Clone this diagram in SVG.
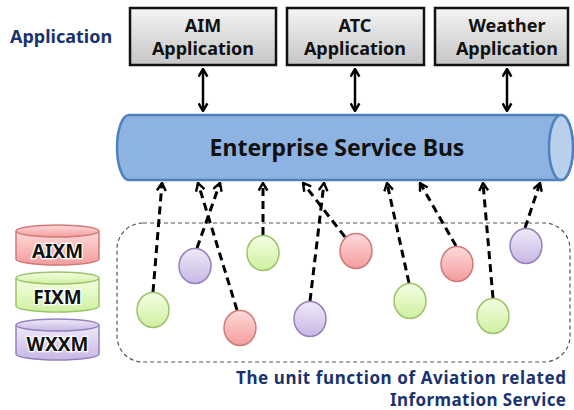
<svg xmlns="http://www.w3.org/2000/svg" width="574" height="410" viewBox="0 0 574 410">
<defs>
<linearGradient id="gBox" x1="0" y1="0" x2="0" y2="1"><stop offset="0" stop-color="#F4F4F4"/><stop offset="1" stop-color="#C6C6C6"/></linearGradient>
<linearGradient id="gRed" x1="0" y1="0" x2="0" y2="1"><stop offset="0" stop-color="#FFDADA"/><stop offset="1" stop-color="#F39C9C"/></linearGradient>
<linearGradient id="gGreen" x1="0" y1="0" x2="0" y2="1"><stop offset="0" stop-color="#F4FFE4"/><stop offset="1" stop-color="#CFEFA0"/></linearGradient>
<linearGradient id="gPurple" x1="0" y1="0" x2="0" y2="1"><stop offset="0" stop-color="#F0EAF8"/><stop offset="1" stop-color="#C7B7E3"/></linearGradient>
<marker id="open" viewBox="0 0 10 10" refX="9" refY="5" markerWidth="11" markerHeight="11" markerUnits="userSpaceOnUse" orient="auto-start-reverse">
<path d="M2,1 L9,5 L2,9" fill="none" stroke="#000" stroke-width="2.2"/>
</marker>
</defs>
<style>
text{font-family:"Noto Sans","Liberation Sans",sans-serif;font-weight:bold}
.box{fill:url(#gBox);stroke:#111;stroke-width:2.5}
.btxt{font-size:18px;fill:#111;text-anchor:middle}
.navy{fill:#1A3370}
.dbl{stroke:#000;stroke-width:2.5;fill:none}
.dash{stroke:#000;stroke-width:3;stroke-dasharray:8 5;fill:none}
.red{fill:url(#gRed);stroke:#D07A7A;stroke-width:1.5}
.green{fill:url(#gGreen);stroke:#9DC26A;stroke-width:1.5}
.purple{fill:url(#gPurple);stroke:#9580BE;stroke-width:1.5}
.ctxt{font-size:19px;fill:#111;text-anchor:middle;stroke:#fff;stroke-width:2.5;paint-order:stroke}
</style>

<text x="10" y="43" class="navy" font-size="18">Application</text>

<g id="aim"><rect class="box" x="130" y="8" width="146" height="57"/><text class="btxt" x="203" y="32">AIM</text><text class="btxt" x="203" y="55">Application</text></g>
<g id="atc"><rect class="box" x="287" y="8" width="137" height="57"/><text class="btxt" x="355" y="32">ATC</text><text class="btxt" x="355" y="55">Application</text></g>
<g id="weather"><rect class="box" x="435" y="8" width="133" height="57"/><text class="btxt" x="507" y="32">Weather</text><text class="btxt" x="507" y="55">Application</text></g>

<g id="bus">
<path d="M129,115 L561,115 A12,32.5 0 0 1 561,180 L129,180 A12,32.5 0 0 1 129,115 Z" fill="#8DB3E2" stroke="#4F81BD" stroke-width="2.5"/>
<ellipse cx="561" cy="147.5" rx="12" ry="32.5" fill="#B9CFEC" stroke="#4F81BD" stroke-width="2.5"/>
<text x="337" y="156" text-anchor="middle" font-size="23" fill="#111">Enterprise Service Bus</text>
</g>

<g id="legend-aixm"><path d="M16,231 L16,259 A41.5,6 0 0 0 99,259 L99,231" class="red"/><ellipse cx="57.5" cy="231" rx="41.5" ry="6" class="red"/><text class="ctxt" x="57.5" y="258">AIXM</text></g>
<g id="legend-fixm"><path d="M16,278 L16,306 A41.5,6 0 0 0 99,306 L99,278" class="green"/><ellipse cx="57.5" cy="278" rx="41.5" ry="6" class="green"/><text class="ctxt" x="57.5" y="304">FIXM</text></g>
<g id="legend-wxxm"><path d="M16,325 L16,354 A41.5,6 0 0 0 99,354 L99,325" class="purple"/><ellipse cx="57.5" cy="325" rx="41.5" ry="6" class="purple"/><text class="ctxt" x="57.5" y="351">WXXM</text></g>

<g id="group-frame"><rect x="117" y="223" width="453" height="139" rx="26" ry="26" fill="none" stroke="#555" stroke-width="1.2" stroke-dasharray="4 3"/></g>

<g id="connectors">
<line class="dbl" x1="203" y1="69" x2="203" y2="111" marker-start="url(#open)" marker-end="url(#open)"/>
<line class="dbl" x1="355" y1="69" x2="355" y2="111" marker-start="url(#open)" marker-end="url(#open)"/>
<line class="dbl" x1="507" y1="69" x2="507" y2="111" marker-start="url(#open)" marker-end="url(#open)"/>
<line class="dash" x1="153" y1="292" x2="162" y2="183" marker-end="url(#open)"/>
<line class="dash" x1="197" y1="248" x2="220" y2="183" marker-end="url(#open)"/>
<line class="dash" x1="237" y1="310" x2="198" y2="183" marker-end="url(#open)"/>
<line class="dash" x1="263" y1="235" x2="263" y2="183" marker-end="url(#open)"/>
<line class="dash" x1="345" y1="237" x2="303" y2="183" marker-end="url(#open)"/>
<line class="dash" x1="310" y1="301" x2="324" y2="183" marker-end="url(#open)"/>
<line class="dash" x1="409" y1="283" x2="387" y2="183" marker-end="url(#open)"/>
<line class="dash" x1="456" y1="246" x2="420" y2="183" marker-end="url(#open)"/>
<line class="dash" x1="493" y1="298" x2="483" y2="183" marker-end="url(#open)"/>
<line class="dash" x1="525" y1="228" x2="540" y2="183" marker-end="url(#open)"/>
</g>

<g id="s1"><ellipse class="green" cx="153" cy="310" rx="16" ry="17.5"/></g>
<g id="s2"><ellipse class="purple" cx="195" cy="266" rx="16" ry="17.5"/></g>
<g id="s3"><ellipse class="green" cx="263" cy="253" rx="16" ry="17.5"/></g>
<g id="s4"><ellipse class="red" cx="240" cy="328" rx="16" ry="17.5"/></g>
<g id="s5"><ellipse class="purple" cx="310" cy="319" rx="16" ry="17.5"/></g>
<g id="s6"><ellipse class="red" cx="356" cy="251" rx="16" ry="17.5"/></g>
<g id="s7"><ellipse class="green" cx="410" cy="301" rx="16" ry="17.5"/></g>
<g id="s8"><ellipse class="red" cx="457" cy="264" rx="16" ry="17.5"/></g>
<g id="s9"><ellipse class="green" cx="493" cy="316" rx="16" ry="17.5"/></g>
<g id="s10"><ellipse class="purple" cx="526" cy="246" rx="16" ry="17.5"/></g>

<text x="566" y="384" text-anchor="end" class="navy" font-size="17" textLength="330" lengthAdjust="spacing">The unit function of Aviation related</text>
<text x="566" y="406" text-anchor="end" class="navy" font-size="17" textLength="176" lengthAdjust="spacing">Information Service</text>
</svg>
